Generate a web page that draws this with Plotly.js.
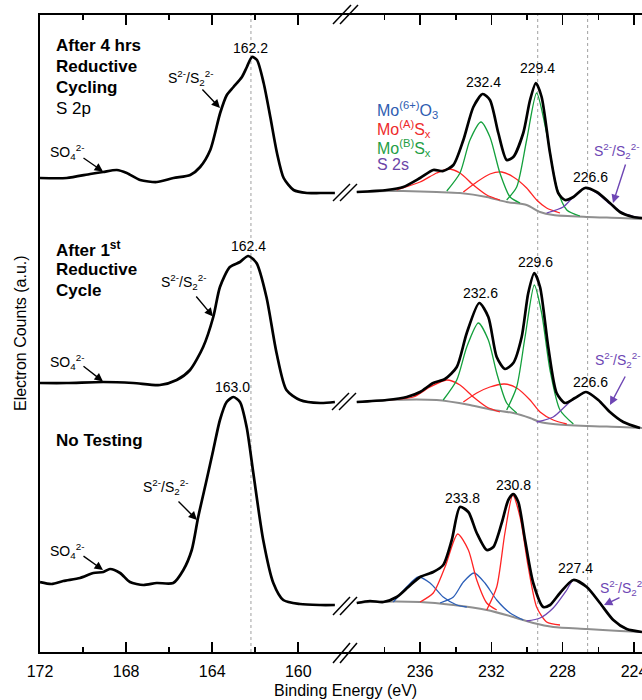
<!DOCTYPE html>
<html>
<head>
<meta charset="utf-8">
<script src="https://cdn.plot.ly/plotly-3.0.1.min.js"></script>
<style>html,body{margin:0;padding:0;background:#fff;}#chart{width:642px;height:700px;}</style>
</head>
<body>
<div id="chart"></div>
<script>
// ---------- DATA (binding energy in eV, intensity in a.u.) ----------
// S 2p region (left panel)
const s2pTop_E = [172.00,170.76,169.67,169.07,168.43,167.97,167.35,166.57,165.80,165.02,164.56,164.09,163.63,163.32,163.01,162.62,162.39,162.15,161.92,161.61,161.30,160.99,160.68,160.22,159.60,158.98,158.30];
const s2pTop_I = [474,474,478,480,482,479,472,470,474,477,485,502,539,557,565,575,585,595,592,569,535,499,474,462,459,459,459];
const s2pMid_E = [172.00,170.76,169.06,167.67,166.43,165.65,165.03,164.42,163.95,163.64,163.18,162.71,162.33,161.94,161.48,161.01,160.55,159.92,158.99,158.30];
const s2pMid_I = [269,269,270,269,267,272,282,305,335,365,385,390,396,389,355,299,262,252,249,250];
const s2pBot_E = [172.00,171.46,170.92,170.14,169.52,169.06,168.75,168.28,167.82,167.20,166.58,165.81,165.34,164.95,164.65,164.26,163.95,163.64,163.33,163.02,162.71,162.40,162.09,161.63,161.16,160.70,159.92,158.99,158.30];
const s2pBot_I = [70,68,71,74,79,80,83,79,70,67,69,69,82,102,135,172,202,232,250,255,250,225,179,112,69,52,48,47,47];

// Mo 3d / S 2s region (right panel) - After 4 hrs reductive cycling
const moTop_E = [239.55,237.87,236.94,236.00,235.26,234.70,234.13,233.57,233.01,232.49,232.08,231.61,231.14,230.77,230.21,229.83,229.50,229.18,228.71,228.25,227.87,227.40,226.75,226.09,225.35,224.79,224.04,223.55];
const moTop_I = [460,462,465,474,482,481,487,512,545,558,552,519,492,495,519,552,569,555,499,459,452,455,464,460,449,440,435,434];
const moTopBg_E = [239.55,237.87,236.94,235.07,233.76,232.26,231.14,230.02,229.27,228.53,226.65,224.79,223.55];
const moTopBg_I = [460,461,461,460,459,455,450,447,440,437,435,434,433];
const moTopA1_E = [237.31,236.00,235.07,234.41,233.76,233.01,232.26,231.52];
const moTopA1_I = [462,470,479,483,479,467,457,452];
const moTopA2_E = [233.57,232.82,232.08,231.42,230.77,230.02,229.46,228.90,228.15];
const moTopA2_I = [460,470,478,480,475,464,452,444,439];
const moTopB1_E = [234.50,233.76,233.20,232.58,232.08,231.52,230.95,230.39];
const moTopB1_I = [461,479,512,530,515,479,455,449];
const moTopB2_E = [231.14,230.58,230.02,229.46,228.90,228.34,227.77,227.03];
const moTopB2_I = [452,465,512,559,519,465,442,436];
const moTopS_E = [228.90,227.97,227.40,226.75,226.09,225.35,224.60,223.66];
const moTopS_I = [439,445,455,464,459,448,439,434];

// After 1st reductive cycle
const moMid_E = [239.55,237.87,236.75,236.00,235.26,234.60,233.94,233.38,232.68,232.17,231.70,231.24,230.77,230.30,229.93,229.59,229.27,228.81,228.34,227.87,227.31,226.69,226.00,225.35,224.60,223.66];
const moMid_I = [250,252,255,260,269,273,285,319,349,335,295,283,289,315,359,379,365,305,259,249,254,260,252,240,230,224];
const moMidBg_E = [239.55,237.87,235.07,233.20,231.89,230.77,229.83,229.27,228.53,226.65,224.79,223.55];
const moMidBg_I = [250,252,252,247,242,239,234,230,228,226,225,224];
const moMidA1_E = [237.87,236.38,235.44,234.50,233.76,233.01,232.26,231.52];
const moMidA1_I = [252,255,265,272,267,255,245,240];
const moMidA2_E = [233.57,232.82,232.08,231.27,230.58,229.83,229.27,228.53,227.77];
const moMidA2_I = [250,259,265,268,264,252,240,232,228];
const moMidB1_E = [234.70,233.94,233.38,232.73,232.17,231.70,231.14,230.58];
const moMidB1_I = [252,272,305,329,312,279,249,239];
const moMidB2_E = [231.14,230.58,230.11,229.59,229.18,228.71,228.15,227.40];
const moMidB2_I = [242,265,315,367,339,282,242,228];
const moMidS_E = [229.46,228.53,227.59,226.69,226.00,225.35,224.60,223.66];
const moMidS_I = [230,235,250,260,252,240,230,224];

// No testing
const moBot_E = [239.55,238.81,238.06,237.31,236.66,236.00,235.26,234.70,234.22,233.76,233.29,232.82,232.26,231.89,231.42,231.05,230.77,230.49,230.11,229.65,229.09,228.71,228.15,227.40,226.65,225.91,225.16,224.41,223.55];
const moBot_I = [49,51,50,55,65,75,80,87,112,145,140,119,102,105,129,152,158,150,112,69,45,47,59,72,65,49,32,23,20];
const moBotBg_E = [239.55,238.81,236.00,234.13,232.26,230.77,229.65,228.53,226.65,224.79,223.55];
const moBotBg_I = [49,50,50,47,42,35,29,25,23,21,20];
const moBotO1_E = [237.50,236.75,236.10,235.44,234.70,233.94,233.38];
const moBotO1_I = [50,65,75,69,55,47,45];
const moBotO2_E = [234.88,234.13,233.57,232.97,232.36,231.70,230.95,230.21];
const moBotO2_I = [49,55,70,79,69,52,39,32];
const moBotA1_E = [236.00,235.26,234.60,233.89,233.29,232.82,232.26,231.70];
const moBotA1_I = [50,59,85,118,102,72,49,42];
const moBotA2_E = [232.26,231.70,231.24,230.80,230.39,229.93,229.46,228.90,228.15];
const moBotA2_I = [42,65,119,157,135,85,45,30,27];
const moBotS_E = [230.02,229.27,228.53,227.77,227.40,226.65,225.91,225.16,224.41,223.66];
const moBotS_I = [31,34,44,62,72,65,49,32,23,20];

// Axis ticks
const leftTicks = [172,168,164,160];
const leftMinor = [170,166,162];
const rightTicks = [236,232,228,224];
const rightMinor = [238,234,230,226];
const refLeft = [162.2];
const refRight = [229.4,226.6];

// ---------- STYLE ----------
const FONT = 'Liberation Sans, Arial, Helvetica, sans-serif';
const C = {blue:'#2c5fb8', red:'#ff2424', green:'#13a03c', purple:'#6e46b4', gray:'#8f8f8f', black:'#000'};

function ln(x, y, ax, color, width){
  return {type:'scatter', mode:'lines', x:x, y:y, xaxis:ax, yaxis:'y',
    line:{color:color, width:width, shape:'spline', smoothing:0.7}, hoverinfo:'skip', showlegend:false};
}

const traces = [
  ln(moTopBg_E, moTopBg_I, 'x2', C.gray, 2),
  ln(moMidBg_E, moMidBg_I, 'x2', C.gray, 2),
  ln(moBotBg_E, moBotBg_I, 'x2', C.gray, 2),
  ln(moTopA1_E, moTopA1_I, 'x2', C.red, 1.3),
  ln(moTopA2_E, moTopA2_I, 'x2', C.red, 1.3),
  ln(moTopB1_E, moTopB1_I, 'x2', C.green, 1.3),
  ln(moTopB2_E, moTopB2_I, 'x2', C.green, 1.3),
  ln(moTopS_E, moTopS_I, 'x2', C.purple, 1.3),
  ln(moMidA1_E, moMidA1_I, 'x2', C.red, 1.3),
  ln(moMidA2_E, moMidA2_I, 'x2', C.red, 1.3),
  ln(moMidB1_E, moMidB1_I, 'x2', C.green, 1.3),
  ln(moMidB2_E, moMidB2_I, 'x2', C.green, 1.3),
  ln(moMidS_E, moMidS_I, 'x2', C.purple, 1.3),
  ln(moBotO1_E, moBotO1_I, 'x2', C.blue, 1.3),
  ln(moBotO2_E, moBotO2_I, 'x2', C.blue, 1.3),
  ln(moBotA1_E, moBotA1_I, 'x2', C.red, 1.3),
  ln(moBotA2_E, moBotA2_I, 'x2', C.red, 1.3),
  ln(moBotS_E, moBotS_I, 'x2', C.purple, 1.3),
  ln(s2pTop_E, s2pTop_I, 'x', C.black, 2.7),
  ln(s2pMid_E, s2pMid_I, 'x', C.black, 2.7),
  ln(s2pBot_E, s2pBot_I, 'x', C.black, 2.7),
  ln(moTop_E, moTop_I, 'x2', C.black, 2.7),
  ln(moMid_E, moMid_I, 'x2', C.black, 2.7),
  ln(moBot_E, moBot_I, 'x2', C.black, 2.7)
];

// pixel -> paper helpers (plot area: x 40..642, y 15..652)
const PX = x => (x - 40) / 602;
const PY = y => (652 - y) / 637;

const ann = [];
function txt(t, x, y, opt){
  opt = opt || {};
  ann.push(Object.assign({text:t, xref:'paper', yref:'paper', x:PX(x), y:PY(y), showarrow:false,
    xanchor:opt.xa || 'center', yanchor:'middle',
    font:{family:FONT, size:opt.size || 14, color:opt.color || '#000'}}, opt.extra || {}));
}
function arrow(tx, ty, hx, hy, color){
  ann.push({text:'', xref:'paper', yref:'paper', x:PX(hx), y:PY(hy), ax:tx - hx, ay:ty - hy,
    showarrow:true, arrowhead:2, arrowsize:1.2, arrowwidth:1.4, arrowcolor:color || '#000'});
}

const SS = 'S<sup>2-</sup>/S<sub>2</sub><sup>2-</sup>';
const SO = 'SO<sub>4</sub><sup>2-</sup>';

// panel labels
txt('<b>After 4 hrs</b>', 54, 45.5, {xa:'left', size:17});
txt('<b>Reductive</b>', 54, 67, {xa:'left', size:17});
txt('<b>Cycling</b>', 54, 88, {xa:'left', size:17});
txt('S 2p', 54, 109, {xa:'left', size:17});
txt('<b>After 1<sup>st</sup></b>', 54, 249, {xa:'left', size:17});
txt('<b>Reductive</b>', 54, 269, {xa:'left', size:17});
txt('<b>Cycle</b>', 54, 291, {xa:'left', size:17});
txt('<b>No Testing</b>', 54, 440, {xa:'left', size:17});

// peak labels
txt('162.2', 250, 48); txt('162.4', 248, 246); txt('163.0', 232, 387);
txt('232.4', 483, 82); txt('229.4', 537, 68); txt('226.6', 590, 177);
txt('232.6', 480, 293); txt('229.6', 535, 262); txt('226.6', 590, 382);
txt('233.8', 462, 498); txt('230.8', 513, 485); txt('227.4', 575, 568);

// species labels + arrows (left panel)
txt(SS, 190, 78); arrow(201, 88, 220, 108);
txt(SO, 67, 152); arrow(82, 157, 103, 171.5);
txt(SS, 183, 282); arrow(195, 295, 213, 316.5);
txt(SO, 67, 362); arrow(82, 365, 103, 381.5);
txt(SS, 165, 487); arrow(177, 500, 197, 520);
txt(SO, 67, 551); arrow(82, 555, 103, 570);

// species labels + arrows (right panel, S 2s)
txt(SS, 592, 151, {xa:'left', color:C.purple});
arrow(626, 163, 613, 203, C.purple);
txt(SS, 593, 360, {xa:'left', color:C.purple});
arrow(626, 375, 610, 405, C.purple);
txt(SS, 598, 588, {xa:'left', color:C.purple});
arrow(621, 597, 604, 605, C.purple);

// component legend
txt('Mo<sup>(6+)</sup>O<sub>3</sub>', 375, 110, {xa:'left', size:16, color:'#2f5db1'});
txt('Mo<sup>(A)</sup>S<sub>x</sub>', 375, 129, {xa:'left', size:16, color:'#ee2b2b'});
txt('Mo<sup>(B)</sup>S<sub>x</sub>', 375, 148, {xa:'left', size:16, color:'#1f9e45'});
txt('S 2s', 375, 164, {xa:'left', size:16, color:'#6b46a8'});

// axis titles
txt('Binding Energy (eV)', 345, 690, {size:16});
txt('Electron Counts (a.u.)', 20, 333, {size:16, extra:{textangle:-90}});

// shapes: reference lines + axis breaks
const shapes = [];
refLeft.forEach(v => shapes.push({type:'line', xref:'x', yref:'paper', x0:v, x1:v, y0:0, y1:1,
  line:{color:'#a0a0a0', width:1, dash:'3px,3px'}, layer:'below'}));
refRight.forEach(v => shapes.push({type:'line', xref:'x2', yref:'paper', x0:v, x1:v, y0:0, y1:1,
  line:{color:'#a0a0a0', width:1, dash:'3px,3px'}, layer:'below'}));
function brk(x0, y0, x1, y1){
  shapes.push({type:'line', xref:'paper', yref:'paper', x0:PX(x0), y0:PY(y0), x1:PX(x1), y1:PY(y1),
    line:{color:'#000', width:1.5}});
}
brk(333,663,350,643); brk(340,663,357,643);   // bottom axis
brk(333,24,351,5);    brk(340,24,358,5);      // top axis
brk(333,201,350,184); brk(340,201,357,184);   // top spectrum
brk(332,410,349,393); brk(339,410,356,393);   // middle spectrum
brk(333,615,350,597); brk(340,615,357,597);   // bottom spectrum

const split = 305 / 602;
const axBase = {
  showline:true, linecolor:'#000', linewidth:2, mirror:'ticks',
  ticks:'inside', ticklen:10, tickwidth:1.6, tickcolor:'#000',
  showgrid:false, zeroline:false, tickmode:'array',
  tickfont:{family:FONT, size:16, color:'#000'}, ticklabelstandoff:4,
  ticklabeloverflow:'allow',
  anchor:'y', fixedrange:true
};

const layout = {
  width:642, height:700,
  margin:{l:40, r:0, t:15, b:48, pad:0},
  paper_bgcolor:'#fff', plot_bgcolor:'#fff',
  showlegend:false,
  xaxis:Object.assign({}, axBase, {domain:[0, split], range:[172, 157.83],
    tickvals:leftTicks, ticktext:leftTicks.map(String),
    minor:{tickmode:'array', tickvals:leftMinor, ticks:'inside', ticklen:5, tickwidth:1.6, tickcolor:'#000', showgrid:false}}),
  xaxis2:Object.assign({}, axBase, {domain:[split, 1], range:[240.21, 223.55],
    tickvals:rightTicks, ticktext:rightTicks.map(String),
    minor:{tickmode:'array', tickvals:rightMinor, ticks:'inside', ticklen:5, tickwidth:1.6, tickcolor:'#000', showgrid:false}}),
  yaxis:{range:[0, 637], showline:true, linecolor:'#000', linewidth:2, mirror:false,
    showticklabels:false, ticks:'', showgrid:false, zeroline:false, fixedrange:true},
  annotations:ann,
  shapes:shapes
};

Plotly.newPlot('chart', traces, layout, {staticPlot:true, displayModeBar:false});
</script>
</body>
</html>
